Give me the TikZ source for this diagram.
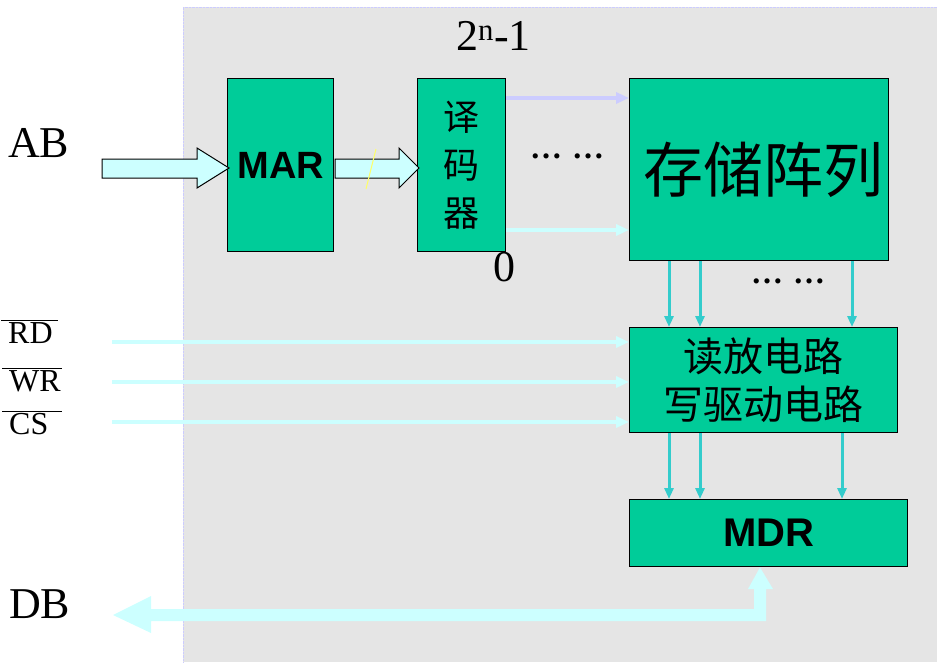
\documentclass[tikz,border=0pt]{standalone}
\usepackage{fontspec}
\setmainfont{Liberation Serif}
\setsansfont{Liberation Sans}
\newfontfamily\cjk{Noto Sans CJK SC}
\usetikzlibrary{arrows.meta}

\definecolor{boxgreen}{RGB}{0,204,153}
\definecolor{palecyan}{RGB}{204,255,255}
\definecolor{linkteal}{RGB}{51,204,204}
\definecolor{paleblue}{RGB}{204,204,255}
\definecolor{panelgrey}{RGB}{229,229,229}
\definecolor{slashyellow}{RGB}{255,255,102}

\newcommand\negsig[2]{$\overline{\hbox to #1{\hskip 7pt #2\hfil}}$}

\tikzset{
  unit/.style={draw=black, line width=1.4pt, fill=boxgreen, anchor=north west, inner sep=0pt},
  ctrl/.style={draw=palecyan, line width=3.5pt, -{Triangle[length=13pt,width=11pt]}},
  bit/.style={draw=linkteal, line width=3pt, -{Triangle[length=11pt,width=9pt]}},
  big/.style={font=\fontsize{44}{48}\selectfont, anchor=base west, inner sep=0pt},
  sig/.style={font=\fontsize{32}{36}\selectfont, anchor=base west, inner sep=0pt},
  dots/.style={font=\bfseries\fontsize{32}{34}\selectfont, anchor=base west, inner sep=0pt},
}

\begin{document}
\begin{tikzpicture}[x=1pt,y=-1pt,line join=miter]
  \useasboundingbox (0,0) rectangle (937,662);
  \fill[panelgrey] (183,7) rectangle (937,662);
  \draw[paleblue, densely dotted] (183,662) -- (183,7) -- (937,7);

  \node[unit, minimum width=106pt, minimum height=173pt,
        font=\sffamily\bfseries\fontsize{38}{40}\selectfont] (mar) at (227,78) {MAR};
  \node[unit, minimum width=88pt, minimum height=173pt, align=center,
        font=\cjk\fontsize{36}{48}\selectfont] (dec) at (417,78) {译\\码\\器};
  \node[unit, minimum width=259pt, minimum height=182pt,
        font=\cjk\fontsize{60}{62}\selectfont] (arr) at (629,78) {\hskip 8pt存储阵列};
  \node[unit, minimum width=268pt, minimum height=105pt, align=center,
        font=\cjk\fontsize{40}{48}\selectfont] (rw) at (629,327) {读放电路\\写驱动电路};
  \node[unit, minimum width=278pt, minimum height=67pt,
        font=\sffamily\bfseries\fontsize{40}{42}\selectfont] (mdr) at (629,499) {MDR};

  % address path
  \filldraw[fill=palecyan, draw=black, line width=1pt]
    (102,159) -- (197,159) -- (197,148) -- (229,168) -- (197,188) -- (197,178) -- (102,178) -- cycle;
  \filldraw[fill=palecyan, draw=black, line width=1pt]
    (335,159) -- (399,159) -- (399,148) -- (419,168) -- (399,188) -- (399,178) -- (335,178) -- cycle;
  \draw[slashyellow, line width=1pt] (376,149) -- (366,189);

  \draw[ctrl, draw=paleblue] (dec.east |- 0,98) -- (arr.west |- 0,98);
  \draw[ctrl] (dec.east |- 0,230) -- (arr.west |- 0,230);
  \foreach \x in {669,700,852}
    \draw[bit] (arr.south -| \x,0) -- (rw.north -| \x,0);
  \foreach \x in {669,700,842}
    \draw[bit] (rw.south -| \x,0) -- (mdr.north -| \x,0);
  \foreach \y in {342,382,422} {
    \coordinate (in\y) at (112,\y);
    \draw[ctrl] (in\y) -- (rw.west |- in\y);
  }

  % data bus
  \fill[palecyan] (113,615) -- (151,596) -- (151,609) -- (754,609) -- (754,589) -- (748,589)
    -- (mdr.south -| 760,0) -- (773,589) -- (766,589) -- (766,621) -- (151,621) -- (151,633) -- cycle;

  \node[big] (ab) at (8,157) {AB};
  \node[big] (db) at (9,618) {DB};
  \node[big] (top) at (456,50) {2\textsuperscript{n}-1};
  \node[big] (zero) at (493,281) {0};
  \node[sig] (rd) at (1,343) {\negsig{57pt}{RD}};
  \node[sig] (wr) at (2,391) {\negsig{60pt}{WR}};
  \node[sig] (cs) at (2,434) {\negsig{60pt}{CS}};
  \node[dots] (rowdots) at (530,158) {…\hskip 10pt…};
  \node[dots] (coldots) at (751,283) {…\hskip 10pt…};
\end{tikzpicture}
\end{document}
